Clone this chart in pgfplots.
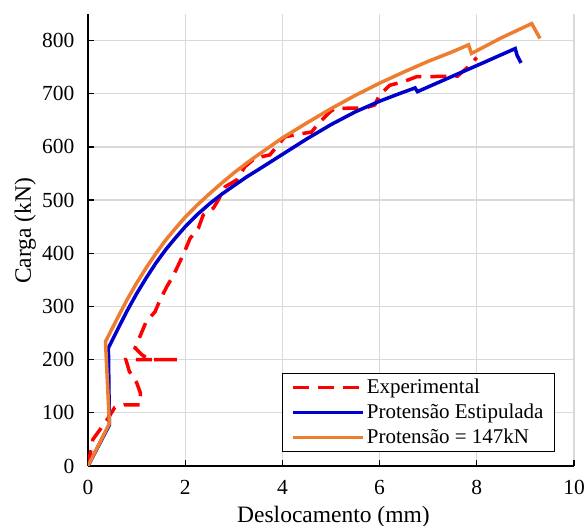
\documentclass[border=0pt]{standalone}
\usepackage{fontspec}
\setmainfont{Liberation Serif}
\usepackage{pgfplots}
\pgfplotsset{compat=1.18}
\usetikzlibrary{calc}
\definecolor{expred}{RGB}{255,0,0}
\definecolor{estblue}{RGB}{0,0,204}
\definecolor{orng}{RGB}{237,125,49}
\definecolor{gridgray}{RGB}{217,217,217}
\begin{document}
\begin{tikzpicture}
\begin{axis}[
  name=ax,
  at={(0,0)}, anchor=south west,
  scale only axis,
  width=486pt, height=452pt,
  xmin=0, xmax=10, ymin=0, ymax=850,
  xtick={0,2,4,6,8,10},
  ytick={0,100,200,300,400,500,600,700,800},
  axis x line*=bottom, axis y line*=left,
  axis line style={black, line width=1.3pt},
  tick align=inside,
  major tick length=6pt,
  tick style={black, line width=1.3pt},
  grid=major,
  major grid style={gridgray, line width=1.3pt},
  /pgf/number format/assume math mode=true,
  ticklabel style={font=\fontsize{21.5}{22}\selectfont},
  yticklabel style={xshift=-10pt},
  xticklabel style={yshift=-11pt},
  xlabel={Deslocamento (mm)},
  ylabel={Carga (kN)},
  label style={font=\fontsize{23.5}{24}\selectfont},
  xlabel style={at={(axis description cs:0.505,0)}, anchor=base, yshift=-56pt},
  ylabel style={at={(axis description cs:0,0.52)}, anchor=base, yshift=57pt},
  legend style={at={(0.961,0.031)}, anchor=south east, draw=black, line width=1pt,
    fill=white, font=\fontsize{21}{21}\selectfont, row sep=5pt,
    inner xsep=9pt, inner ysep=4pt},
  legend cell align=left,
  legend image code/.code={\draw[#1, line width=3.5pt] (0pt,0pt) -- (70pt,0pt);},
]
\addplot[expred, line width=3.5pt, dash pattern=on 16pt off 9pt] coordinates {
(0,0) (0.1,50) (0.3,75) (0.4,88) (0.55,110) (0.75,115) (1.07,115) (1.08,137)
(1.0,157) (0.85,178) (0.78,200) (1.85,200) (1.25,200) (1.1,210) (0.97,222)
(1.08,246) (1.2,272) (1.38,290) (1.48,312) (1.62,337) (1.76,359) (1.89,384)
(2.0,406) (2.1,428) (2.27,447) (2.37,472) (2.58,485) (2.68,500) (2.82,525)
(3.06,538) (3.23,563) (3.44,579) (3.74,585) (3.85,597) (4.05,619) (4.33,624)
(4.6,628) (4.74,644) (4.98,666) (5.08,672) (5.4,673) (5.7,673) (5.9,679)
(6.0,698) (6.21,716) (6.5,723) (6.76,732) (7.6,733) (7.79,748) (8.0,768)
};
\addlegendentry{Experimental}
\addplot[estblue, line width=3.5pt] coordinates {
(0,0) (0.44,77) (0.42,222) (0.6,255) (0.8,291) (1.0,324) (1.2,354) (1.4,382)
(1.6,407) (1.8,429) (2.0,450) (2.25,473) (2.5,493) (2.75,511) (3.0,527)
(3.27,544) (3.5,557) (4.0,586) (4.5,615) (5.0,642) (5.5,666) (6.0,686)
(6.4,700) (6.73,711) (6.78,704) (7.5,733) (8.0,753) (8.79,785) (8.83,772) (8.91,758)
};
\addlegendentry{Protensão Estipulada}
\addplot[orng, line width=3.5pt] coordinates {
(0,0) (0.44,80) (0.36,234) (0.5,259) (0.6,277) (0.8,312) (1.0,344) (1.2,373)
(1.4,400) (1.6,425) (1.8,447) (2.0,468) (2.25,491) (2.5,512) (2.75,532)
(3.0,551) (3.27,570) (3.5,585) (4.0,617) (4.5,645) (5.0,672) (5.5,697)
(6.0,720) (6.5,741) (7.0,761) (7.5,779) (7.83,792) (7.89,776) (8.0,781)
(8.5,805) (9.13,832) (9.30,804)
};
\addlegendentry{Protensão = 147kN}
\end{axis}
\pgfresetboundingbox
\path[use as bounding box] ($(ax.south west)+(-88pt,-60pt)$) rectangle ($(ax.north east)+(11pt,14pt)$);
\end{tikzpicture}
\end{document}
